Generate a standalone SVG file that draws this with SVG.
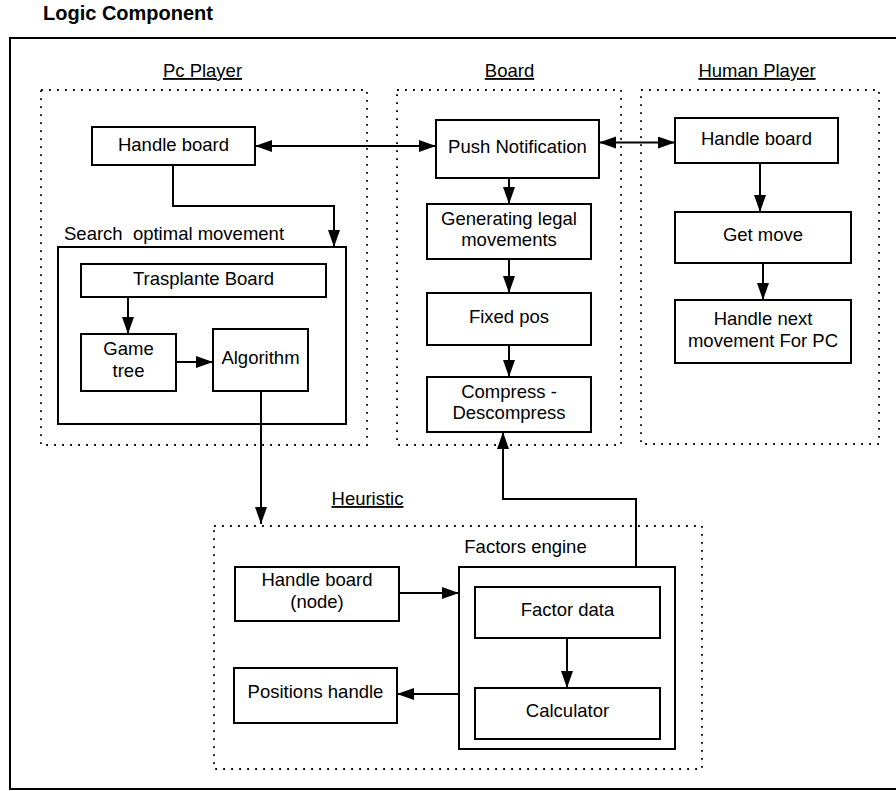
<svg xmlns="http://www.w3.org/2000/svg" width="896" height="791" viewBox="0 0 896 791">
<defs>
<style>
.t{font-family:"Liberation Sans",Arial,sans-serif;font-size:18.5px;fill:#000;text-anchor:middle}
.title{font-family:"Liberation Sans",Arial,sans-serif;font-size:20px;font-weight:bold;fill:#000}
.lbl{text-decoration:underline}
.box{fill:#fff;stroke:#000;stroke-width:2}
.dot{fill:none;stroke:#000;stroke-width:1.8;stroke-dasharray:1.8 6.2}
.c{fill:none;stroke:#000;stroke-width:2}
.a{marker-end:url(#ah)}
.b{marker-start:url(#ah);marker-end:url(#ah)}
</style>
<marker id="ah" markerUnits="userSpaceOnUse" markerWidth="18" markerHeight="13" refX="17" refY="6" orient="auto-start-reverse">
<path d="M0,0 L17,6 L0,12 z" fill="#000"/>
</marker>
</defs>
<rect width="896" height="791" fill="#fff"/>
<text class="title" x="43" y="20">Logic Component</text>
<rect x="10" y="38" width="900" height="751" fill="none" stroke="#000" stroke-width="2"/>

<g id="pc-player">
<rect class="dot" x="41" y="90" width="326" height="355"/>
<text class="t lbl" x="202.5" y="77">Pc Player</text>
</g>
<g id="board">
<rect class="dot" x="397" y="90" width="224" height="355"/>
<text class="t lbl" x="509.5" y="77">Board</text>
</g>
<g id="human-player">
<rect class="dot" x="641" y="90" width="238" height="354"/>
<text class="t lbl" x="757" y="77">Human Player</text>
</g>
<g id="heuristic">
<rect class="dot" x="214" y="526" width="488" height="243"/>
<text class="t lbl" x="367.5" y="505">Heuristic</text>
</g>

<g id="pc-handle-board">
<rect class="box" x="92" y="127" width="163" height="38"/>
<text class="t" x="173.5" y="150.7">Handle board</text>
</g>
<g id="search-optimal">
<rect class="box" x="58" y="247" width="288" height="177"/>
<text class="t" x="64" y="240" style="text-anchor:start;white-space:pre" xml:space="preserve">Search  optimal movement</text>
</g>
<g id="trasplante">
<rect class="box" x="81" y="264" width="245" height="33"/>
<text class="t" x="203.5" y="285">Trasplante Board</text>
</g>
<g id="game-tree">
<rect class="box" x="81" y="334" width="95" height="57"/>
<text class="t" x="128.5" y="355">Game</text>
<text class="t" x="128.5" y="376.5">tree</text>
</g>
<g id="algorithm">
<rect class="box" x="213" y="329" width="95" height="62"/>
<text class="t" x="260.5" y="364">Algorithm</text>
</g>

<g id="push-notification">
<rect class="box" x="436" y="120" width="163" height="58"/>
<text class="t" x="517.5" y="153.3">Push Notification</text>
</g>
<g id="generating">
<rect class="box" x="427" y="204" width="164" height="55"/>
<text class="t" x="509" y="225">Generating legal</text>
<text class="t" x="509" y="246">movements</text>
</g>
<g id="fixed-pos">
<rect class="box" x="427" y="293" width="164" height="52"/>
<text class="t" x="509" y="323">Fixed pos</text>
</g>
<g id="compress">
<rect class="box" x="427" y="377" width="164" height="55"/>
<text class="t" x="509" y="398">Compress -</text>
<text class="t" x="509" y="419">Descompress</text>
</g>

<g id="human-handle-board">
<rect class="box" x="675" y="118" width="163" height="45"/>
<text class="t" x="756.5" y="145">Handle board</text>
</g>
<g id="get-move">
<rect class="box" x="675" y="212" width="176" height="51"/>
<text class="t" x="763" y="241">Get move</text>
</g>
<g id="handle-next">
<rect class="box" x="675" y="300" width="176" height="63"/>
<text class="t" x="763" y="325">Handle next</text>
<text class="t" x="763" y="347">movement For PC</text>
</g>

<g id="handle-board-node">
<rect class="box" x="235" y="567" width="164" height="54"/>
<text class="t" x="317" y="586">Handle board</text>
<text class="t" x="317" y="608">(node)</text>
</g>
<g id="positions-handle">
<rect class="box" x="234" y="668" width="163" height="55"/>
<text class="t" x="315.5" y="698.3">Positions handle</text>
</g>
<g id="factors-engine">
<rect class="box" x="459" y="567" width="216" height="182"/>
<text class="t" x="525.5" y="553.3">Factors engine</text>
</g>
<g id="factor-data">
<rect class="box" x="475" y="587" width="185" height="51"/>
<text class="t" x="567.5" y="615.7">Factor data</text>
</g>
<g id="calculator">
<rect class="box" x="475" y="688" width="185" height="51"/>
<text class="t" x="567.5" y="716.7">Calculator</text>
</g>

<g id="connectors">
<path class="c b" d="M255,146 L436,146"/>
<path class="c b" d="M599,142.5 L675,142.5"/>
<path class="c a" d="M509,178 L509,204"/>
<path class="c a" d="M509,259 L509,293"/>
<path class="c a" d="M509,345 L509,377"/>
<path class="c a" d="M760,163 L760,212"/>
<path class="c a" d="M763,263 L763,300"/>
<path class="c a" d="M173,165 L173,206 L334,206 L334,247"/>
<path class="c a" d="M128,297 L128,334"/>
<path class="c a" d="M176,362 L213,362"/>
<path class="c a" d="M261,391 L261,524"/>
<path class="c a" d="M636,567 L636,499 L503,499 L503,432"/>
<path class="c a" d="M399,593 L459,593"/>
<path class="c a" d="M459,694 L397,694"/>
<path class="c a" d="M567,638 L567,688"/>
</g>
</svg>
